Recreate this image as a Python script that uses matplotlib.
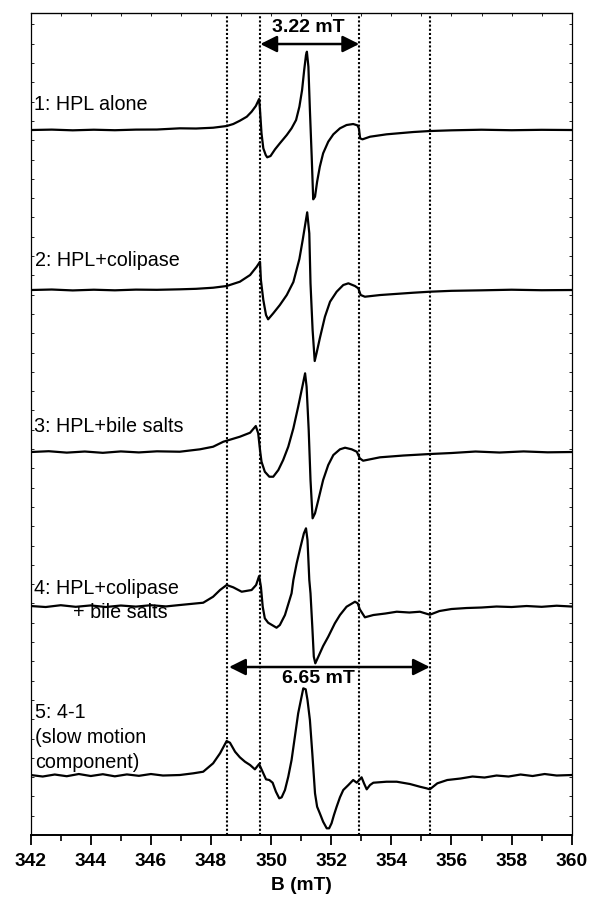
import matplotlib.pyplot as plt
from matplotlib.ticker import MultipleLocator
from matplotlib.patches import ArrowStyle

plt.rcParams['font.family'] = ['Liberation Sans', 'DejaVu Sans']

# field (mT) and signal (arbitrary units, relative to each trace baseline)
b1 = [342.0, 342.7, 343.4, 344.1, 344.8, 345.5, 346.2, 346.96, 347.5, 348.07, 348.52, 348.74,
      348.96, 349.19, 349.35, 349.49, 349.60, 349.63, 349.68, 349.74, 349.82, 349.87,
      349.98, 350.13, 350.29, 350.52, 350.68, 350.83, 350.94, 351.03, 351.10, 351.16,
      351.19, 351.24, 351.29, 351.35, 351.40, 351.46, 351.53, 351.62, 351.73, 351.90,
      352.07, 352.29, 352.51, 352.73, 352.87, 352.92, 352.96, 353.04, 353.29, 353.84,
      354.73, 355.28, 356.0, 357.0, 358.0, 359.0, 360.0]
s1 = [0, 0.4, -0.3, 0.3, -0.2, 0.4, 0.5, 1.7, 1.5, 2.3, 4, 6,
      9.3, 13.3, 18.3, 24, 31, 20, -3.3, -18.3, -25, -27.3,
      -26, -19.3, -13.3, -5, 1.7, 10, 23.3, 40, 60, 75,
      78.3, 63.3, 20, -26.7, -69.3, -66.7, -51.7, -36.7, -23.3, -11.7,
      -4.3, 1.7, 5, 6, 4.7, 1.7, -8.3, -9.3, -6.7, -4.3,
      -2, -1, -0.3, 0.3, -0.2, 0.2, 0]

b2 = [342.0, 342.7, 343.4, 344.1, 344.8, 345.5, 346.2, 346.96, 347.5, 348.07, 348.52,
      348.96, 349.30, 349.52, 349.63, 349.66, 349.74, 349.83, 349.90, 350.07, 350.29,
      350.52, 350.74, 350.94, 351.05, 351.14, 351.20, 351.27, 351.31, 351.38,
      351.45, 351.51, 351.62, 351.79, 351.96, 352.18, 352.40, 352.57, 352.79, 352.90,
      352.98, 353.12, 353.63, 354.73, 355.28, 356.0, 357.0, 358.0, 359.0, 360.0]
s2 = [0, 0.5, -0.4, 0.3, -0.3, 0.4, 0.2, 0.7, 1.2, 2.3, 4,
      8.3, 15, 23.3, 28.3, 10, -10, -25, -29.3, -23.3, -15,
      -5, 8, 31, 50, 66.7, 77.7, 56.7, 6.7, -40,
      -71, -63.3, -48.3, -26.7, -11.7, -1.7, 5, 6.7, 4, 1.7,
      -5, -6.7, -5, -2.7, -1.7, -0.8, -0.3, 0.3, -0.2, 0]

b3 = [342.0, 342.6, 343.2, 343.8, 344.4, 345.0, 345.6, 346.2, 346.96, 347.63, 348.07,
      348.41, 348.52, 348.96, 349.30, 349.49, 349.57, 349.63, 349.68, 349.79, 349.94,
      350.07, 350.24, 350.40, 350.57, 350.74, 350.90, 351.05, 351.13, 351.18, 351.25,
      351.31, 351.38, 351.46, 351.57, 351.73, 351.90, 352.07, 352.29, 352.46, 352.68,
      352.85, 352.95, 353.06, 353.62, 354.4, 355.28, 356.0, 356.8, 357.6, 358.4,
      359.2, 360.0]
s3 = [0, 0.8, -0.6, 0.5, -0.8, 0.6, -0.4, 0.7, 0.3, 2.7, 5.3,
      10.3, 11.3, 15.3, 19.3, 26, 18.7, 2, -9.7, -19.7, -24.7,
      -24.7, -18, -8, 5.3, 23.7, 45.3, 67, 78.7, 65.3, 22,
      -28, -66.3, -61.3, -48, -28, -13, -3, 2.7, 4.3, 2.7,
      0.3, -6.3, -8.7, -5.3, -3.5, -2, -1, 0.5, -0.5, 0.6,
      -0.3, 0]

b4 = [342.0, 342.5, 343.0, 343.5, 344.0, 344.5, 345.0, 345.5, 346.0, 346.5, 346.96,
      347.74, 348.07, 348.30, 348.52, 348.74, 349.02, 349.35, 349.50, 349.60, 349.66,
      349.72, 349.79, 349.90, 350.18, 350.29, 350.46, 350.68, 350.74, 350.85, 350.98,
      351.09, 351.16, 351.21, 351.27, 351.31, 351.37, 351.42, 351.47, 351.57, 351.73,
      351.90, 352.12, 352.29, 352.51, 352.79, 352.88, 352.95, 353.12, 353.40, 353.8,
      354.18, 354.6, 354.95, 355.28, 355.6, 356.0, 356.5, 357.0, 357.5, 358.0,
      358.5, 359.0, 359.5, 360.0]
s4 = [0, -1, 0.8, -0.8, 0.6, -1, 0.5, -0.6, 0.8, -0.4, 1,
      3.3, 9.3, 16, 21, 18.7, 14.3, 16, 21, 30, 19.3,
      -0.7, -12.3, -16.7, -21.7, -19, -9, 12.7, 26, 42.7, 59.3,
      72.7, 77.7, 66, 26, 12.7, -20.7, -50.7, -57.3, -50.7, -40,
      -30.7, -17.3, -9, -0.7, 4.3, 2.7, -3.3, -11.3, -9, -7.5,
      -5.7, -6.5, -5.7, -8.7, -5, -3, -2, -1.5, -0.5, -1,
      0, -0.8, 0.3, -0.5]

b5 = [342.0, 342.4, 342.8, 343.2, 343.6, 344.0, 344.4, 344.8, 345.2, 345.6, 346.0,
      346.4, 346.96, 347.41, 347.74, 348.07, 348.30, 348.52, 348.63, 348.80, 348.96,
      349.13, 349.30, 349.46, 349.60, 349.74, 349.83, 349.94, 350.05, 350.16, 350.27,
      350.35, 350.46, 350.57, 350.68, 350.79, 350.90, 350.99, 351.07, 351.15, 351.21,
      351.29, 351.37, 351.46, 351.53, 351.62, 351.73, 351.85, 351.93, 352.01, 352.09,
      352.18, 352.29, 352.40, 352.57, 352.73, 352.85, 353.01, 353.09, 353.18, 353.29,
      353.40, 353.84, 354.18, 354.62, 354.95, 355.17, 355.28, 355.53, 355.86, 356.3,
      356.7, 357.1, 357.5, 357.9, 358.3, 358.7, 359.1, 359.5, 360.0]
s5 = [0, -1.5, 0.5, -1.2, 1, -1, 0.8, -1.3, 0.6, -0.8, 1,
      -0.5, 0, 1.7, 3.3, 11.7, 21.7, 34, 32.3, 23.3, 17.7,
      13.3, 10, 5.7, 11, 1.7, -4.3, -5, -7.7, -16.7, -23.3,
      -22.3, -15, -1.7, 15, 38.3, 61.7, 75, 86.7, 85.7, 75,
      55, 21.7, -18.3, -31.7, -38.3, -46.7, -53.3, -53.3, -48.3, -40,
      -31.7, -22.3, -15, -10, -5, -7.7, -2.3, -8.3, -14.3, -10,
      -7.7, -6.7, -6.7, -9, -11.7, -13.3, -14.3, -8.3, -5, -3.5,
      -1.5, -2.5, -0.5, -1.5, 0.5, -1, 1, -0.5, 0]

fields = [b1, b2, b3, b4, b5]
signals = [s1, s2, s3, s4, s5]
baselines = [705, 545, 383, 229, 60]

marker_lines = [348.52, 349.64, 352.93, 355.28]


def row(py):
    # pixel row of the original figure -> data units
    return 835 - py


fig = plt.figure(figsize=(5.89, 9.0), dpi=100)
ax = fig.add_axes([0.0521, 0.0722, 0.9185, 0.9130])

for b, s, base in zip(fields, signals, baselines):
    ax.plot(b, [base + v for v in s], color='black', lw=1.6, zorder=3,
            solid_joinstyle='round')

ax.vlines(marker_lines, 0, 820, colors='black', linestyles=(0, (1, 1)), lw=1.5, zorder=2)

fs = 14.2
ax.text(342.1, row(104), '1: HPL alone', fontsize=fs, va='center', ha='left')
ax.text(342.15, row(260), '2: HPL+colipase', fontsize=fs, va='center', ha='left')
ax.text(342.1, row(426), '3: HPL+bile salts', fontsize=fs, va='center', ha='left')
ax.text(342.1, row(588), '4: HPL+colipase', fontsize=fs, va='center', ha='left')
ax.text(343.4, row(612), '+ bile salts', fontsize=fs, va='center', ha='left')
ax.text(342.15, row(712), '5: 4-1', fontsize=fs, va='center', ha='left')
ax.text(342.15, row(737), '(slow motion', fontsize=fs, va='center', ha='left')
ax.text(342.15, row(762), 'component)', fontsize=fs, va='center', ha='left')

head = ArrowStyle('<|-|>', head_length=1.0, head_width=0.5)
ax.annotate('', xy=(352.93, row(44)), xytext=(349.64, row(44)),
            arrowprops=dict(arrowstyle=head, mutation_scale=10, color='black',
                            lw=1.8, shrinkA=0, shrinkB=0), zorder=4)
ax.text(351.24, row(27), '3.22 mT', fontsize=14, fontweight='bold',
        ha='center', va='center')
ax.annotate('', xy=(355.28, row(667)), xytext=(348.6, row(667)),
            arrowprops=dict(arrowstyle=head, mutation_scale=10, color='black',
                            lw=1.8, shrinkA=0, shrinkB=0), zorder=4)
ax.text(351.57, row(678), '6.65 mT', fontsize=14, fontweight='bold',
        ha='center', va='center')

ax.set_xlim(342, 360)
ax.set_ylim(0, 821.7)
ax.xaxis.set_major_locator(MultipleLocator(2))
ax.xaxis.set_minor_locator(MultipleLocator(1))
ax.tick_params(axis='x', which='major', direction='out', length=7, width=1.3,
               labelsize=13.8, pad=6)
ax.tick_params(axis='x', which='minor', direction='out', length=4.5, width=1.2)
for lab in ax.get_xticklabels():
    lab.set_fontweight('bold')
ax.set_xlabel('B (mT)', fontsize=13.8, fontweight='bold', labelpad=5)

ax.yaxis.set_major_locator(MultipleLocator(19.3))
ax.tick_params(axis='y', direction='in', length=2, width=0.6, left=True, right=True,
               labelleft=False)

top = ax.secondary_xaxis('top')
top.xaxis.set_major_locator(MultipleLocator(1))
top.tick_params(direction='in', length=2, width=0.6, labeltop=False)
top.spines['top'].set_linewidth(0.8)

for side in ['left', 'right', 'top']:
    ax.spines[side].set_linewidth(0.9)
ax.spines['bottom'].set_linewidth(1.4)

fig.savefig('out.png', dpi=100)
